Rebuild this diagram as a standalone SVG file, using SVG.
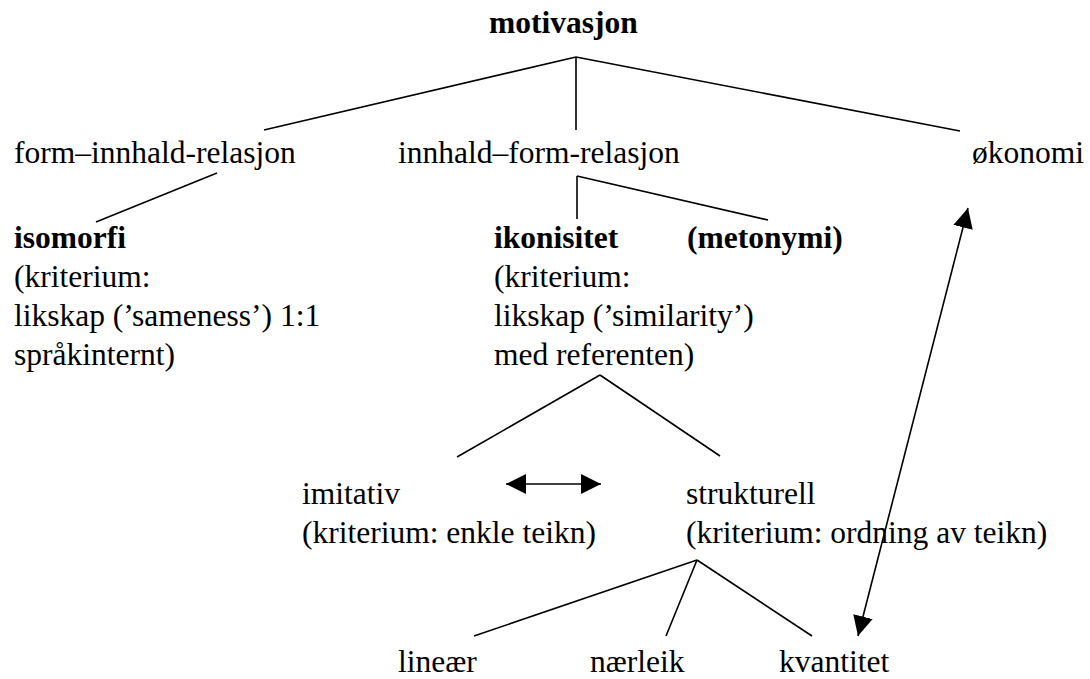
<svg xmlns="http://www.w3.org/2000/svg" width="1090" height="679" viewBox="0 0 1090 679">
<style>
text{font-family:"Liberation Serif","Times New Roman",serif;font-size:31.5px;fill:#000}
.b{font-weight:bold}
.c line{stroke:#000;stroke-width:1.6;fill:none}
</style>
<defs>
<marker id="ah" viewBox="0 0 20 20" refX="20" refY="10" markerWidth="20" markerHeight="20" markerUnits="userSpaceOnUse" orient="auto-start-reverse"><path d="M0,0 L20,10 L0,20 z" fill="#000"/></marker>
</defs>
<rect width="1090" height="679" fill="#fff"/>
<g class="c" id="connectors">
<line x1="576" y1="57" x2="264" y2="130"/>
<line x1="576" y1="57" x2="576" y2="130"/>
<line x1="576" y1="57" x2="960" y2="131"/>
<line x1="217" y1="173" x2="96" y2="222"/>
<line x1="577" y1="176" x2="577" y2="219"/>
<line x1="577" y1="176" x2="768" y2="220"/>
<line x1="600" y1="375" x2="457" y2="457"/>
<line x1="600" y1="375" x2="720" y2="456"/>
<line x1="506" y1="484" x2="601" y2="484" marker-start="url(#ah)" marker-end="url(#ah)"/>
<line x1="697" y1="560" x2="474" y2="636"/>
<line x1="697" y1="560" x2="666" y2="636"/>
<line x1="697" y1="560" x2="812" y2="636"/>
<line x1="968" y1="208" x2="858" y2="636" marker-start="url(#ah)" marker-end="url(#ah)"/>
</g>
<g id="motivasjon"><text class="b" x="489" y="33">motivasjon</text></g>
<g id="form-innhald"><text x="14" y="163">form–innhald-relasjon</text></g>
<g id="innhald-form"><text x="398" y="163">innhald–form-relasjon</text></g>
<g id="okonomi"><text x="972" y="163">økonomi</text></g>
<g id="isomorfi">
<text class="b" x="14" y="248">isomorfi</text>
<text x="14" y="287">(kriterium:</text>
<text x="14" y="326">likskap (’sameness’) 1:1</text>
<text x="14" y="365">språkinternt)</text>
</g>
<g id="ikonisitet">
<text class="b" x="494" y="248">ikonisitet</text>
<text x="494" y="287">(kriterium:</text>
<text x="494" y="326">likskap (’similarity’)</text>
<text x="494" y="365">med referenten)</text>
</g>
<g id="metonymi"><text class="b" x="687" y="248">(metonymi)</text></g>
<g id="imitativ">
<text x="302" y="504">imitativ</text>
<text x="302" y="543">(kriterium: enkle teikn)</text>
</g>
<g id="strukturell">
<text x="686" y="504">strukturell</text>
<text x="686" y="543">(kriterium: ordning av teikn)</text>
</g>
<g id="linear"><text x="398" y="672">lineær</text></g>
<g id="naerleik"><text x="590" y="672">nærleik</text></g>
<g id="kvantitet"><text x="779" y="672">kvantitet</text></g>
</svg>
